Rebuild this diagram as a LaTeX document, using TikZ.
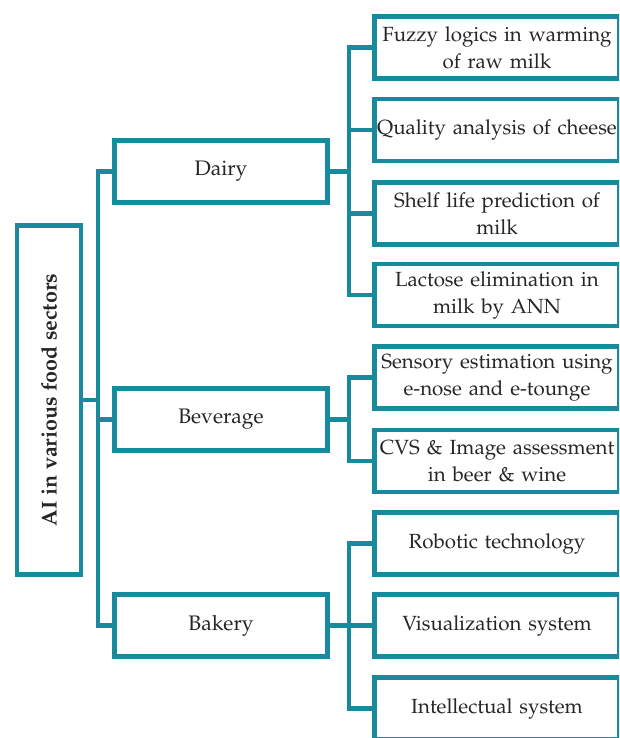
\documentclass[tikz,border=0pt]{standalone}
\usepackage[T1]{fontenc}
\usepackage{mathpazo}
\definecolor{teal1}{RGB}{24,138,158}
\begin{document}
\begin{tikzpicture}[x=1pt,y=-1pt,
  box/.style={draw=teal1,line width=4.5pt,fill=white,inner sep=0pt,align=center,
    text=black!85,font=\fontsize{20.5}{27}\selectfont},
  leaf/.style={box,minimum width=245pt,minimum height=62pt,text width=244pt},
  mid/.style={box,minimum width=213pt,minimum height=62pt,font=\fontsize{21}{27}\selectfont},
  link/.style={draw=teal1,line width=4.5pt,line cap=rect}]
\useasboundingbox (0,0) rectangle (619,738);
\clip (0,0) rectangle (619,738);
\node[box,minimum width=349pt,minimum height=64pt,rotate=90,font=\fontsize{21.5}{27}\selectfont\bfseries] (root) at (49,400) {AI in various food sectors};
\node[mid] (dairy) at (221,171.5) {Dairy};
\node[mid] (bev) at (221,419.5) {Beverage};
\node[mid] (bak) at (221,625.5) {Bakery};
\node[leaf] (f1) at (497,47.5) {Fuzzy logics in warming\\of raw milk};
\node[leaf] (f2) at (497,130) {Quality analysis of cheese};
\node[leaf] (f3) at (497,213.5) {Shelf life prediction of\\milk};
\node[leaf] (f4) at (497,295) {Lactose elimination in\\milk by ANN};
\node[leaf] (f5) at (497,377.5) {Sensory estimation using\\e-nose and e-tounge};
\node[leaf] (f6) at (497,461) {CVS \& Image assessment\\in beer \& wine};
\node[leaf] (f7) at (497,543.5) {Robotic technology};
\node[leaf] (f8) at (497,625.5) {Visualization system};
\node[leaf] (f9) at (497,708.5) {Intellectual system};
\coordinate (t) at (98,0);
\coordinate (b) at (349,0);
\draw[link] (root.south) -- (root.south -| t);
\draw[link] (dairy.west) -- (dairy.west -| t) -- (bak.west -| t) -- (bak.west);
\draw[link] (bev.west) -- (bev.west -| t);
\draw[link] (dairy.east) -- (dairy.east -| b);
\draw[link] (f1.west) -- (f1.west -| b) -- (f4.west -| b) -- (f4.west);
\draw[link] (f2.west) -- (f2.west -| b);
\draw[link] (f3.west) -- (f3.west -| b);
\draw[link] (bev.east) -- (bev.east -| b);
\draw[link] (f5.west) -- (f5.west -| b) -- (f6.west -| b) -- (f6.west);
\draw[link] (bak.east) -- (bak.east -| b);
\draw[link] (f7.west) -- (f7.west -| b) -- (f9.west -| b) -- (f9.west);
\draw[link] (f8.west) -- (f8.west -| b);
\end{tikzpicture}
\end{document}
